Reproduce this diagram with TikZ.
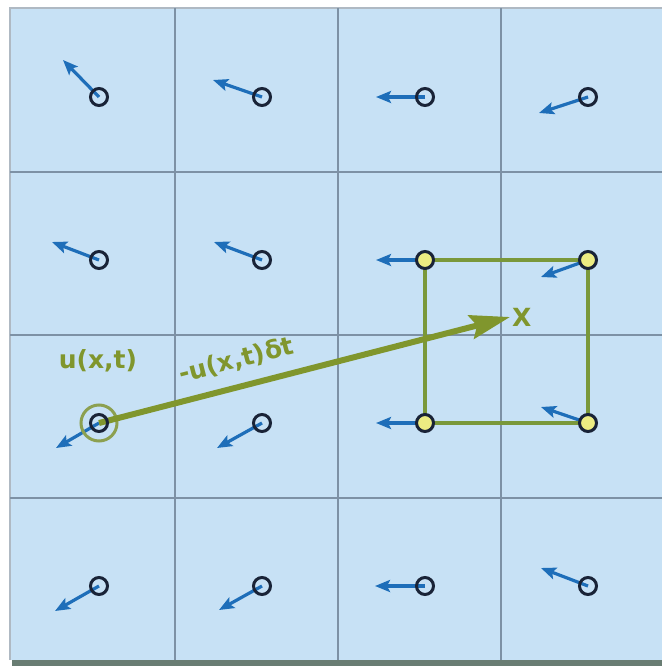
\documentclass[tikz,border=0pt]{standalone}
\usepackage{fontspec}
\setmainfont{DejaVu Sans}
\usetikzlibrary{arrows.meta,positioning}
\definecolor{cellblue}{RGB}{199,225,245}
\definecolor{gridgray}{RGB}{125,145,165}
\definecolor{rimgray}{RGB}{175,185,195}
\definecolor{shadowgray}{RGB}{105,125,115}
\definecolor{probeink}{RGB}{25,35,55}
\definecolor{flowblue}{RGB}{30,110,185}
\definecolor{olive}{RGB}{128,150,45}
\definecolor{squaregreen}{RGB}{122,152,58}
\definecolor{ringgreen}{RGB}{140,160,80}
\definecolor{cornerfill}{RGB}{236,236,130}
\tikzset{
	probe/.style = {
		draw=probeink, 
		circle, 
		minimum size=17pt, 
		inner sep=0pt, 
		line width=3pt
	},
	corner/.style = {
		probe, 
		fill=cornerfill
	},
	ring/.style = {
		draw=ringgreen, 
		circle, 
		minimum size=36pt, 
		inner sep=0pt, 
		line width=3pt
	},
	flow/.style = {
		-{Stealth[length=15pt,width=12pt,inset=3pt]}, 
		draw=flowblue, 
		line width=3.2pt
	},
	trace/.style = {
		-{Stealth[length=40pt,width=24pt,inset=6pt]}, 
		draw=olive, 
		line width=6pt
	},
	cellside/.style = {
		draw=squaregreen, 
		line width=3.2pt
	},
	lab/.style = {
		text=olive, 
		font=\fontsize{25}{29}\selectfont\bfseries, 
		inner sep=1pt
	}
}
\begin{document}
\begin{tikzpicture}[x=1pt, y=-1pt]
	\useasboundingbox (0,0) rectangle (662,666);
	
	% --- Cuadricula de celdas ---
	\fill[shadowgray] (12,660) rectangle (662,666);
	\fill[cellblue] (10,8) rectangle (662,660);
	\draw[rimgray, line width=1.6pt] (10,660) -- (10,8) -- (662,8);
	\draw[gridgray, line width=1.6pt] (175,8) -- (175,660);
	\draw[gridgray, line width=1.6pt] (338,8) -- (338,660);
	\draw[gridgray, line width=1.6pt] (501,8) -- (501,660);
	\draw[gridgray, line width=1.6pt] (10,172) -- (662,172);
	\draw[gridgray, line width=1.6pt] (10,335) -- (662,335);
	\draw[gridgray, line width=1.6pt] (10,498) -- (662,498);
	
	% --- Puntos de la malla ---
	\coordinate (p00) at (99,97);
	\coordinate (p01) at (262,97);
	\coordinate (p02) at (425,97);
	\coordinate (p03) at (588,97);
	\coordinate (p10) at (99,260);
	\coordinate (p11) at (262,260);
	\coordinate (p12) at (425,260);
	\coordinate (p13) at (588,260);
	\coordinate (p20) at (99,423);
	\coordinate (p21) at (262,423);
	\coordinate (p22) at (425,423);
	\coordinate (p23) at (588,423);
	\coordinate (p30) at (99,586);
	\coordinate (p31) at (262,586);
	\coordinate (p32) at (425,586);
	\coordinate (p33) at (588,586);
	
	% Puntas de las velocidades
	\coordinate (v00) at (63,60);
	\coordinate (v01) at (213,80);
	\coordinate (v02) at (376,97);
	\coordinate (v03) at (539,113);
	\coordinate (v10) at (52,242);
	\coordinate (v11) at (214,242);
	\coordinate (v12) at (376,260);
	\coordinate (v13) at (541,277);
	\coordinate (v20) at (56,448);
	\coordinate (v21) at (217,448);
	\coordinate (v22) at (376,423);
	\coordinate (v23) at (541,407);
	\coordinate (v30) at (55,611);
	\coordinate (v31) at (219,610);
	\coordinate (v32) at (375,586);
	\coordinate (v33) at (541,568);
	
	% Punto de llegada del trazado hacia atras
	\coordinate (xtip) at (510,317);
	
	% --- Velocidades ---
	\draw[flow] (p00) -- (v00);
	\draw[flow] (p01) -- (v01);
	\draw[flow] (p02) -- (v02);
	\draw[flow] (p03) -- (v03);
	\draw[flow] (p10) -- (v10);
	\draw[flow] (p11) -- (v11);
	\draw[flow] (p12) -- (v12);
	\draw[flow] (p13) -- (v13);
	\draw[flow] (p20) -- (v20);
	\draw[flow] (p21) -- (v21);
	\draw[flow] (p22) -- (v22);
	\draw[flow] (p23) -- (v23);
	\draw[flow] (p30) -- (v30);
	\draw[flow] (p31) -- (v31);
	\draw[flow] (p32) -- (v32);
	\draw[flow] (p33) -- (v33);
	
	% Celda de interpolacion
	\draw[cellside] (p12) -- (p13) -- (p23) -- (p22) -- cycle;
	
	% Anillo del punto de partida
	\node[ring] (start) at (p20) {};
	
	% Trazado hacia atras
	\draw[trace] (p20) -- node[lab, sloped, above=11pt, pos=0.35] (step) {-u(x,t)δt} (xtip);
	
	% --- NODOS ---
	\node[probe] (c00) at (p00) {};
	\node[probe] (c01) at (p01) {};
	\node[probe] (c02) at (p02) {};
	\node[probe] (c03) at (p03) {};
	\node[probe] (c10) at (p10) {};
	\node[probe] (c11) at (p11) {};
	\node[corner] (c12) at (p12) {};
	\node[corner] (c13) at (p13) {};
	\node[probe] (c20) at (p20) {};
	\node[probe] (c21) at (p21) {};
	\node[corner] (c22) at (p22) {};
	\node[corner] (c23) at (p23) {};
	\node[probe] (c30) at (p30) {};
	\node[probe] (c31) at (p31) {};
	\node[probe] (c32) at (p32) {};
	\node[probe] (c33) at (p33) {};
	
	% Etiquetas
	\node[lab] (vel) at (98,361) {u(x,t)};
	\node[lab, right=1pt of xtip] (xlab) {X};
	
\end{tikzpicture}
\end{document}
